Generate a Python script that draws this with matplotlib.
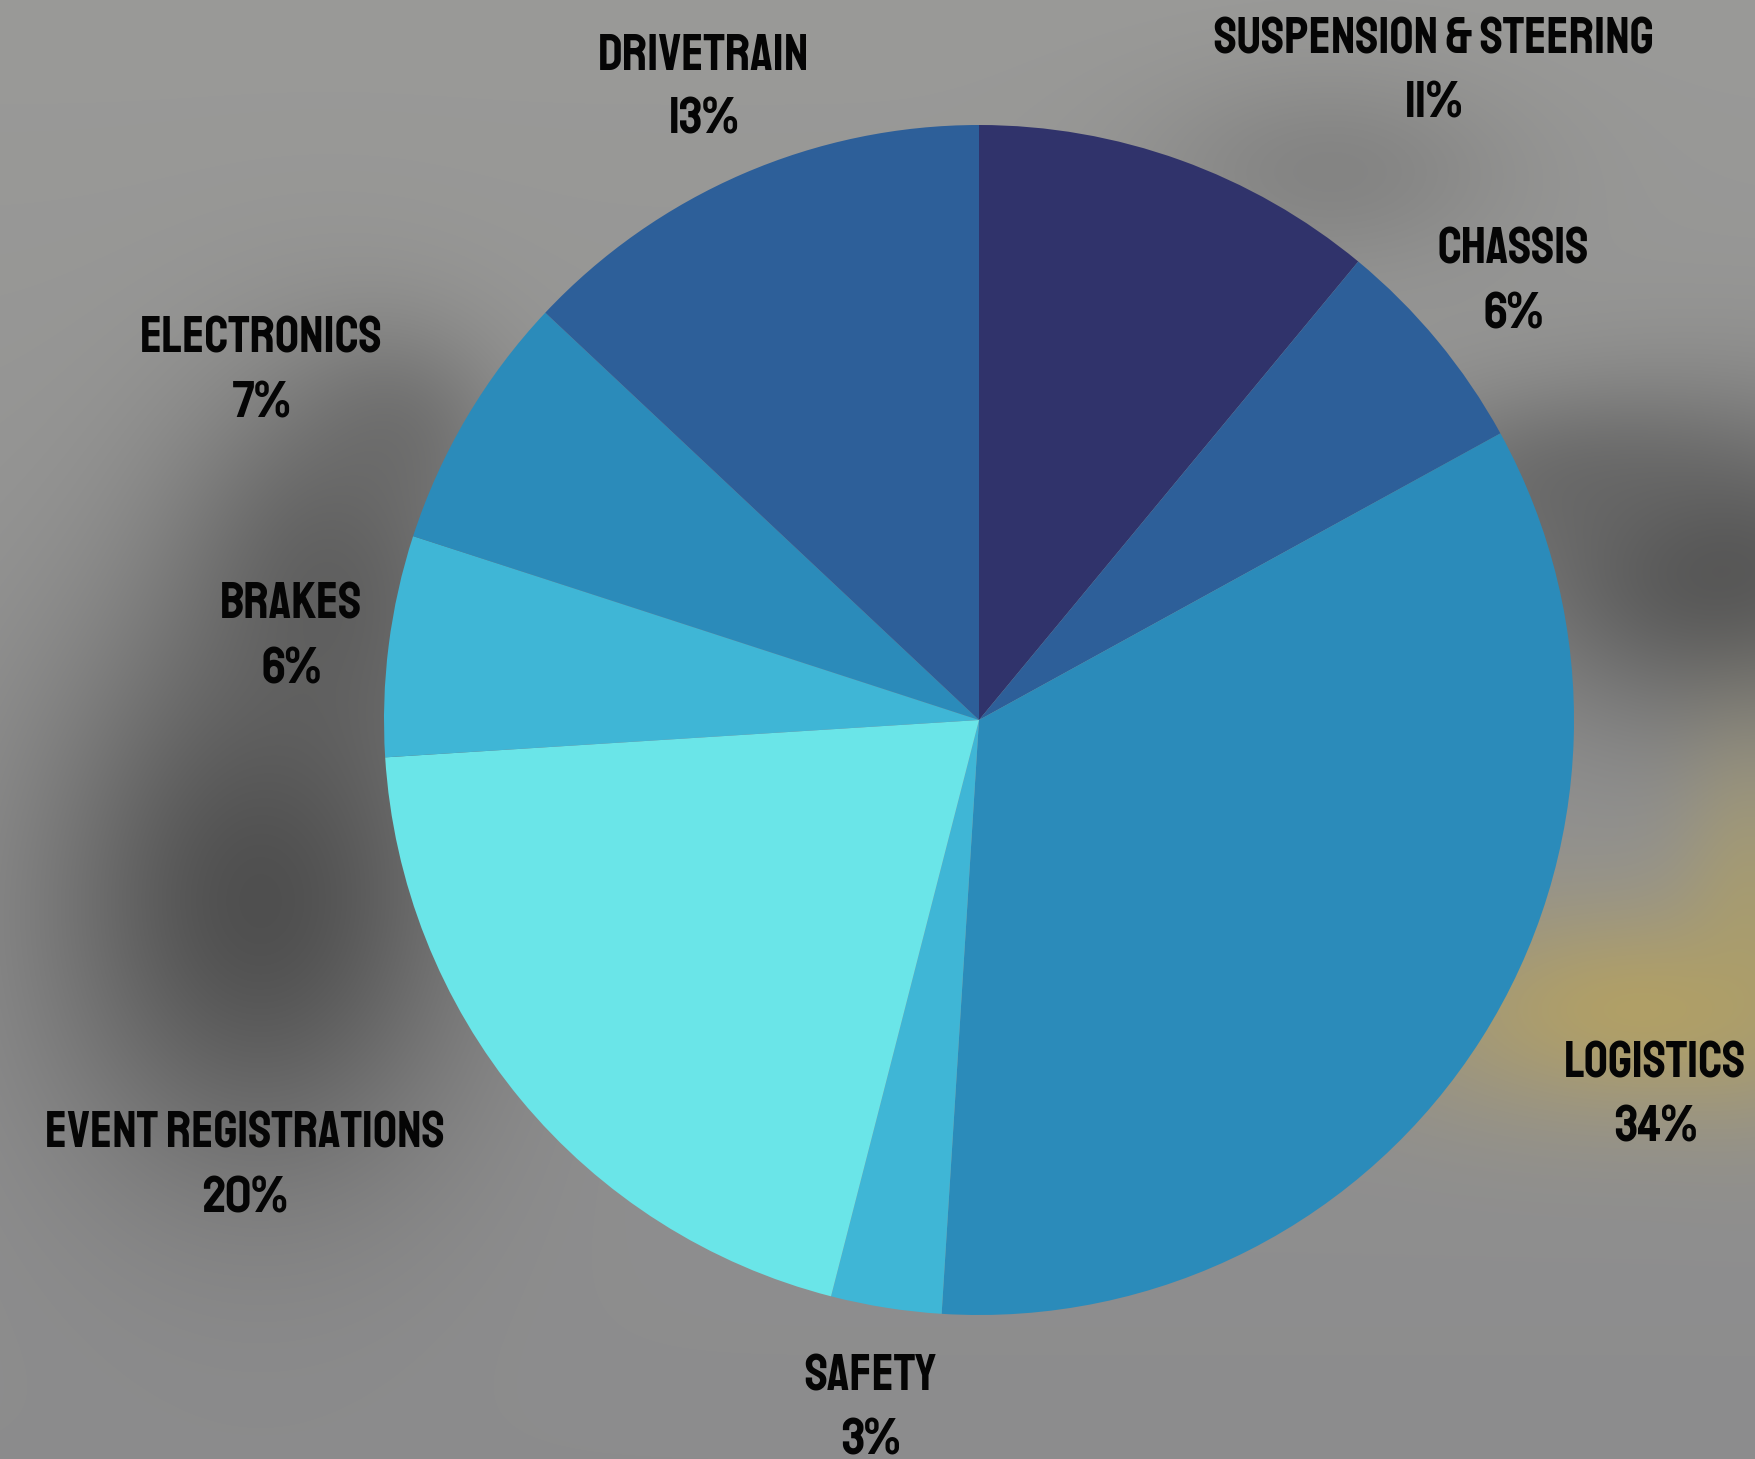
import numpy as np
import matplotlib.pyplot as plt

plt.switch_backend('Agg')

# data
categories = ['Suspension & Steering', 'Chassis', 'Logistics', 'Safety',
              'Event Registrations', 'Brakes', 'Electronics', 'Drivetrain']
shares = [11, 6, 34, 3, 20, 6, 7, 13]
colors = ['#30336b', '#2d5f99', '#2b8bba', '#3fb6d6',
          '#6ae5e8', '#3fb6d6', '#2b8bba', '#2d5f99']

W, H = 1755, 1459
fig = plt.figure(figsize=(W / 100, H / 100), dpi=100)
ax = fig.add_axes([0, 0, 1, 1])

# blurred photo-like backdrop (pixel rows counted from the top)
yy, xx = np.mgrid[0:H, 0:W].astype(float)
top = np.array([154, 154, 152.])
bot = np.array([140, 140, 141.])
t = (yy / H)[..., None]
bg = top * (1 - t) + bot * t

def blob(cx, cy, sx, sy, col, k):
    global bg
    w = k * np.exp(-(((xx - cx) / sx) ** 2 + ((yy - cy) / sy) ** 2) / 2)[..., None]
    bg = bg * (1 - w) + np.array(col, float) * w

blob(260, 900, 150, 190, (72, 72, 72), 0.9)
blob(330, 580, 110, 140, (80, 80, 80), 0.7)
blob(400, 430, 70, 70, (95, 95, 95), 0.5)
blob(1720, 570, 160, 110, (80, 80, 80), 0.9)
blob(1560, 480, 120, 60, (95, 95, 95), 0.6)
blob(1330, 170, 130, 70, (112, 112, 112), 0.5)
blob(1640, 1010, 170, 75, (182, 162, 96), 0.85)
blob(1750, 900, 50, 110, (175, 160, 100), 0.6)
ax.imshow(bg.astype(np.uint8), extent=(0, W, 0, H), zorder=0, aspect='auto')

cx, cy, R = 979, H - 720, 595
wedges, _ = ax.pie(shares, colors=colors, startangle=90, counterclock=False,
                   center=(cx, cy), radius=R,
                   wedgeprops=dict(linewidth=0))
for w in wedges:
    w.set_zorder(2)

for i, (w, name, v) in enumerate(zip(wedges, categories, shares)):
    ang = np.deg2rad((w.theta1 + w.theta2) / 2)
    x = cx + 1.165 * R * np.cos(ang)
    y = cy + 1.165 * R * np.sin(ang)
    if i % 2 == 1:
        ha = 'center'
    else:
        ha = 'left' if np.cos(ang) > 0 else 'right'
    ax.text(x, y, f'{name}\n{v}%', ha=ha, va='center',
            multialignment='center', fontsize=38,
            family=['Staatliches', 'DejaVu Sans'], linespacing=1.75,
            color='#050505', zorder=3)

ax.set_xlim(0, W)
ax.set_ylim(0, H)
ax.set_aspect('auto')
ax.axis('off')

fig.savefig('out.png', dpi=100)
plt.close(fig)
